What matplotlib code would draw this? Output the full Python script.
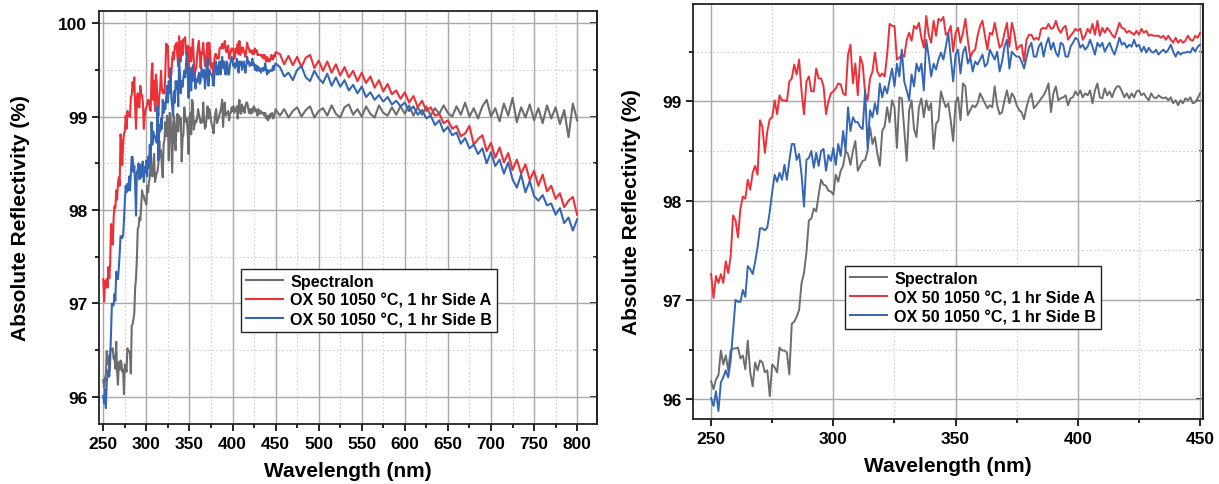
import matplotlib.pyplot as plt
from matplotlib.ticker import MultipleLocator

plt.rcParams['font.family'] = ['Liberation Sans', 'DejaVu Sans']
plt.rcParams['font.weight'] = 'bold'

# wavelength grids (nm)
wl_uv = list(range(250, 451))
wl_vis = list(range(455, 801, 5))

# Spectralon reference, 250-450 nm (1 nm) then 455-800 nm (5 nm)
spectralon_uv = [
    96.18, 96.10, 96.20, 96.24, 96.49, 96.35, 96.44, 96.29, 96.49, 96.51,
    96.51, 96.52, 96.41, 96.44, 96.30, 96.59, 96.27, 96.13, 96.37, 96.29,
    96.39, 96.37, 96.27, 96.29, 96.03, 96.35, 96.32, 96.27, 96.52, 96.49,
    96.49, 96.47, 96.25, 96.76, 96.78, 96.83, 96.90, 97.17, 97.27, 97.48,
    97.80, 97.82, 97.92, 97.89, 98.06, 98.21, 98.16, 98.15, 98.10, 98.09,
    98.06, 98.26, 98.19, 98.30, 98.35, 98.50, 98.47, 98.36, 98.50, 98.60,
    98.30, 98.35, 98.40, 98.41, 98.50, 98.74, 98.57, 98.64, 98.47, 98.35,
    98.70, 98.75, 98.94, 98.79, 99.01, 98.94, 98.53, 99.04, 99.03, 98.72,
    98.40, 98.91, 99.01, 98.72, 98.64, 98.94, 99.03, 98.84, 99.01, 98.91,
    98.98, 98.52, 98.77, 98.81, 99.10, 99.01, 98.94, 98.98, 98.81, 98.60,
    98.99, 99.04, 98.81, 99.18, 99.15, 98.86, 98.91, 98.96, 98.94, 98.98,
    99.08, 99.03, 98.98, 98.93, 98.96, 98.94, 99.15, 98.96, 98.87, 98.89,
    99.01, 99.11, 98.98, 99.08, 99.04, 98.96, 98.91, 98.89, 98.82, 98.94,
    99.03, 99.08, 98.93, 98.96, 98.99, 99.03, 99.06, 99.11, 99.18, 98.89,
    99.08, 99.15, 99.01, 99.03, 99.04, 99.06, 98.96, 99.03, 99.04, 99.10,
    99.06, 99.11, 99.04, 99.08, 99.06, 99.11, 98.98, 99.11, 99.18, 99.04,
    99.03, 99.13, 99.06, 99.10, 99.04, 99.11, 99.15, 99.15, 99.10, 99.04,
    99.08, 99.03, 99.08, 99.04, 99.10, 99.11, 99.06, 99.08, 99.04, 99.01,
    99.08, 99.04, 99.03, 99.06, 99.04, 99.03, 99.04, 99.01, 99.04, 98.98,
    99.01, 98.96, 99.01, 98.98, 99.03, 99.01, 99.04, 98.98, 98.99, 99.03, 99.08,
]
spectralon_vis = [
    99.01, 99.08, 98.99, 99.06, 99.10, 99.00, 99.07, 99.11, 98.99, 99.06,
    99.09, 99.01, 99.12, 99.03, 98.99, 99.10, 99.13, 99.02, 99.08, 99.00,
    99.11, 99.03, 98.99, 99.12, 99.04, 99.01, 99.10, 99.02, 99.11, 99.03,
    99.12, 99.01, 99.10, 99.02, 99.11, 99.01, 99.09, 99.03, 99.12, 99.04,
    99.00, 99.11, 99.02, 99.15, 99.00, 99.09, 98.98, 99.11, 99.18, 99.00,
    99.09, 98.95, 99.14, 99.01, 99.20, 98.94, 99.10, 98.99, 99.13, 98.96,
    99.09, 98.93, 99.12, 98.98, 99.10, 98.92, 99.07, 98.78, 99.14, 98.96,
]

# OX 50 1050 C, 1 hr, Side A
side_a_uv = [
    97.26, 97.02, 97.24, 97.17, 97.26, 97.17, 97.39, 97.27, 97.44, 97.85,
    97.80, 97.63, 97.92, 98.04, 98.02, 98.21, 98.11, 98.28, 98.35, 98.26,
    98.81, 98.74, 98.48, 98.70, 98.82, 98.84, 99.01, 98.87, 99.06, 99.01,
    99.01, 99.00, 99.20, 99.23, 99.37, 99.27, 99.42, 99.10, 98.87, 99.20,
    99.25, 99.10, 99.10, 99.33, 99.23, 99.23, 99.15, 98.87, 99.00, 99.08,
    99.10, 99.13, 99.18, 99.17, 99.08, 99.06, 99.47, 99.57, 99.18, 99.38,
    99.06, 99.45, 99.37, 99.08, 99.01, 99.23, 99.30, 99.49, 99.30, 99.25,
    99.28, 99.25, 99.47, 99.78, 99.76, 99.76, 99.42, 99.44, 99.47, 99.45,
    99.62, 99.69, 99.61, 99.76, 99.73, 99.79, 99.64, 99.54, 99.86, 99.67,
    99.59, 99.81, 99.66, 99.83, 99.81, 99.85, 99.67, 99.69, 99.76, 99.50,
    99.69, 99.74, 99.59, 99.69, 99.83, 99.62, 99.44, 99.50, 99.52, 99.66,
    99.76, 99.81, 99.66, 99.52, 99.69, 99.67, 99.79, 99.66, 99.54, 99.57,
    99.69, 99.79, 99.55, 99.79, 99.69, 99.52, 99.55, 99.57, 99.40, 99.62,
    99.67, 99.67, 99.62, 99.64, 99.62, 99.73, 99.74, 99.73, 99.78, 99.73,
    99.74, 99.81, 99.73, 99.69, 99.74, 99.76, 99.62, 99.66, 99.69, 99.73,
    99.71, 99.73, 99.62, 99.66, 99.73, 99.69, 99.78, 99.67, 99.81, 99.66,
    99.74, 99.69, 99.74, 99.71, 99.67, 99.64, 99.71, 99.79, 99.74, 99.73,
    99.69, 99.71, 99.69, 99.67, 99.71, 99.67, 99.73, 99.69, 99.71, 99.66,
    99.67, 99.66, 99.66, 99.66, 99.64, 99.66, 99.62, 99.66, 99.62, 99.59,
    99.64, 99.59, 99.62, 99.59, 99.61, 99.66, 99.62, 99.61, 99.66, 99.64, 99.69,
]
side_a_vis = [
    99.67, 99.56, 99.65, 99.55, 99.64, 99.53, 99.63, 99.66, 99.52, 99.60,
    99.49, 99.59, 99.47, 99.56, 99.44, 99.53, 99.42, 99.49, 99.38, 99.47,
    99.36, 99.43, 99.31, 99.39, 99.27, 99.35, 99.24, 99.28, 99.19, 99.26,
    99.15, 99.22, 99.10, 99.17, 99.06, 99.10, 99.01, 99.03, 98.93, 98.96,
    98.87, 98.90, 98.79, 98.82, 98.90, 98.70, 98.76, 98.80, 98.63, 98.72,
    98.56, 98.67, 98.51, 98.61, 98.43, 98.54, 98.39, 98.49, 98.32, 98.42,
    98.26, 98.38, 98.20, 98.26, 98.12, 98.18, 98.03, 98.10, 98.14, 97.95,
]

# OX 50 1050 C, 1 hr, Side B
side_b_uv = [
    96.01, 95.93, 96.08, 95.88, 96.17, 96.22, 96.29, 96.22, 96.39, 96.69,
    97.00, 96.98, 96.98, 97.10, 97.03, 97.34, 97.31, 97.26, 97.38, 97.53,
    97.72, 97.72, 97.70, 97.73, 97.89, 98.09, 98.26, 98.19, 98.28, 98.21,
    98.36, 98.21, 98.40, 98.57, 98.57, 98.41, 98.47, 98.26, 97.94, 98.41,
    98.43, 98.50, 98.33, 98.48, 98.35, 98.50, 98.52, 98.30, 98.46, 98.40,
    98.53, 98.36, 98.57, 98.45, 98.70, 98.50, 98.94, 98.70, 98.84, 98.79,
    98.79, 98.74, 98.72, 99.11, 98.53, 98.91, 98.84, 98.98, 98.87, 99.18,
    99.04, 99.15, 99.08, 99.21, 99.33, 99.15, 99.38, 99.25, 99.52, 99.20,
    99.11, 99.01, 99.27, 99.15, 99.38, 99.30, 99.38, 99.11, 99.62, 99.45,
    99.25, 99.38, 99.32, 99.42, 99.49, 99.42, 99.55, 99.69, 99.45, 99.20,
    99.47, 99.52, 99.28, 99.49, 99.55, 99.38, 99.44, 99.30, 99.40, 99.37,
    99.42, 99.47, 99.35, 99.38, 99.52, 99.47, 99.42, 99.50, 99.30, 99.40,
    99.55, 99.62, 99.33, 99.50, 99.47, 99.45, 99.45, 99.40, 99.33, 99.44,
    99.54, 99.59, 99.45, 99.45, 99.55, 99.59, 99.45, 99.57, 99.64, 99.52,
    99.59, 99.49, 99.45, 99.59, 99.57, 99.45, 99.45, 99.55, 99.59, 99.64,
    99.62, 99.54, 99.57, 99.52, 99.55, 99.62, 99.55, 99.47, 99.59, 99.55,
    99.59, 99.50, 99.55, 99.59, 99.52, 99.47, 99.55, 99.64, 99.57, 99.59,
    99.54, 99.57, 99.55, 99.62, 99.55, 99.57, 99.50, 99.55, 99.49, 99.54,
    99.50, 99.49, 99.52, 99.47, 99.50, 99.52, 99.49, 99.52, 99.57, 99.50,
    99.45, 99.50, 99.47, 99.49, 99.49, 99.50, 99.49, 99.54, 99.50, 99.55, 99.57,
]
side_b_vis = [
    99.53, 99.43, 99.47, 99.39, 99.50, 99.54, 99.42, 99.38, 99.49, 99.41,
    99.36, 99.46, 99.33, 99.42, 99.32, 99.39, 99.28, 99.34, 99.25, 99.32,
    99.21, 99.26, 99.18, 99.23, 99.16, 99.21, 99.13, 99.17, 99.11, 99.15,
    99.06, 99.11, 99.02, 99.07, 98.98, 99.01, 98.91, 98.96, 98.84, 98.89,
    98.80, 98.83, 98.71, 98.77, 98.66, 98.70, 98.60, 98.66, 98.50, 98.62,
    98.47, 98.54, 98.39, 98.51, 98.33, 98.24, 98.38, 98.19, 98.31, 98.15,
    98.10, 98.16, 98.05, 98.07, 97.95, 98.02, 97.86, 97.92, 97.78, 97.90,
]

labels = ['Spectralon', 'OX 50 1050 °C, 1 hr Side A', 'OX 50 1050 °C, 1 hr Side B']
colors = ['#6d6d70', '#ec3038', '#3566b5']

wl_all = wl_uv + wl_vis
series_all = [spectralon_uv + spectralon_vis, side_a_uv + side_a_vis, side_b_uv + side_b_vis]
series_uv = [spectralon_uv, side_a_uv, side_b_uv]

fig = plt.figure(figsize=(12.19, 4.85), dpi=100)
ax1 = fig.add_axes([0.0812, 0.1237, 0.4085, 0.8515])
ax2 = fig.add_axes([0.5685, 0.134, 0.4184, 0.8557])


def style_axis(ax, ypad):
    ax.xaxis.set_major_locator(MultipleLocator(50))
    ax.xaxis.set_minor_locator(MultipleLocator(25))
    ax.yaxis.set_major_locator(MultipleLocator(1))
    ax.yaxis.set_minor_locator(MultipleLocator(0.5))
    ax.grid(which='major', color='#a8a8a8', linewidth=1.0)
    ax.grid(which='minor', color='#cfcfcf', linestyle=(0, (1.5, 2)), linewidth=0.8)
    ax.set_axisbelow(True)
    for s in ax.spines.values():
        s.set_linewidth(1.3)
        s.set_color('#222222')
    ax.tick_params(which='both', direction='out', width=1.2, labelsize=12.5)
    ax.tick_params(which='major', length=5)
    ax.tick_params(which='minor', length=3)
    for t in ax.get_xticklabels() + ax.get_yticklabels():
        t.set_fontweight('bold')
    ax.set_xlabel('Wavelength (nm)', fontsize=15, fontweight='bold', labelpad=7)
    ax.set_ylabel('Absolute Reflectivity (%)', fontsize=15, fontweight='bold', labelpad=ypad)
    # inward ticks on the right spine
    sec = ax.secondary_yaxis('right')
    sec.yaxis.set_major_locator(MultipleLocator(1))
    sec.yaxis.set_minor_locator(MultipleLocator(0.5))
    sec.tick_params(which='both', direction='in', width=1.2, labelright=False)
    sec.tick_params(which='major', length=5)
    sec.tick_params(which='minor', length=3)
    sec.spines['right'].set_linewidth(1.3)
    sec.spines['right'].set_color('#222222')


for y, c, lab in zip(series_all, colors, labels):
    ax1.plot(wl_all, y, color=c, linewidth=1.5, label=lab)
ax1.set_xlim(245, 823)
ax1.set_ylim(95.71, 100.13)
style_axis(ax1, 20)

for y, c, lab in zip(series_uv, colors, labels):
    ax2.plot(wl_uv, y, color=c, linewidth=1.4, label=lab)
ax2.set_xlim(242.6, 451.2)
ax2.set_ylim(95.8, 99.98)
style_axis(ax2, 15)

for ax, anchor in [(ax1, (0.285, 0.223)), (ax2, (0.298, 0.217))]:
    leg = ax.legend(loc='lower left', bbox_to_anchor=anchor, fancybox=False,
                    framealpha=1, edgecolor='#222222', fontsize=11.6,
                    handlelength=2.3, labelspacing=0.25, borderpad=0.3,
                    handletextpad=0.45, borderaxespad=0)
    leg.get_frame().set_linewidth(1.0)
    for t in leg.get_texts():
        t.set_fontweight('bold')

fig.savefig('out.png', dpi=100)
